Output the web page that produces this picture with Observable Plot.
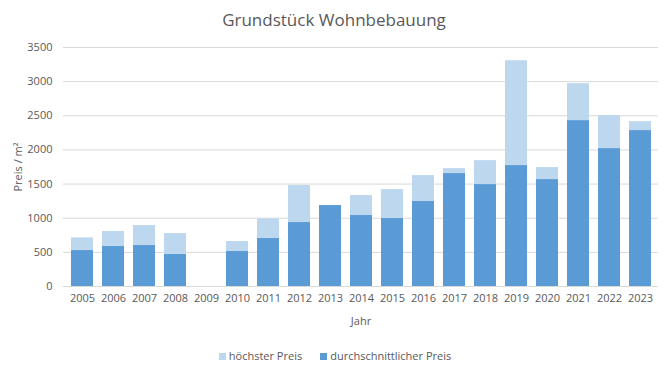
<!DOCTYPE html>
<html><head><meta charset="utf-8">
<script src="https://cdn.jsdelivr.net/npm/d3@7"></script>
<script src="https://cdn.jsdelivr.net/npm/@observablehq/plot@0.6"></script>
<style>
body{margin:0;background:#fff;font-family:"Open Sans",sans-serif;color:#595959;width:668px;}
#title{height:38px;line-height:40px;text-align:center;font-size:17px;color:#595959;}
#legend{height:35px;display:flex;justify-content:center;align-items:center;font-size:11px;color:#595959;gap:18px;padding-left:2px;}
#legend span.sw{display:inline-block;width:7px;height:7px;margin-right:3px;vertical-align:middle;position:relative;top:-1px;}
</style></head><body>
<div id="title">Grundstück Wohnbebauung</div>
<div id="chart"></div>
<div id="legend"></div>
<script>
const years = ["2005","2006","2007","2008","2009","2010","2011","2012","2013","2014","2015","2016","2017","2018","2019","2020","2021","2022","2023"];
const hoechsterPreis = [712,805,892,775,null,658,990,1478,1185,1331,1419,1624,1726,1843,3306,1741,2970,2502,2414];
const durchschnittPreis = [526,585,600,468,null,512,702,936,1185,1039,995,1244,1653,1492,1770,1565,2428,2019,2282];
const yTicks = [0,500,1000,1500,2000,2500,3000,3500];
const seriesNames = ["höchster Preis","durchschnittlicher Preis"];
const colors = ["#bdd7ee","#5b9bd5"];

const data = years.map((y,i)=>({year:y, hoch:hoechsterPreis[i], avg:durchschnittPreis[i]}));

const chart = Plot.plot({
  width:668, height:300,
  marginTop:9, marginBottom:52, marginLeft:63, marginRight:10,
  style:{fontFamily:"'Open Sans',sans-serif", fontSize:"11px", color:"#595959", background:"#fff"},
  x:{domain:years, paddingInner:0.3, paddingOuter:0.15},
  y:{domain:[0,3500]},
  marks:[
    Plot.gridY(yTicks,{stroke:"#d9d9d9", strokeOpacity:1}),
    Plot.barY(data.filter(d=>d.hoch!=null),{x:"year", y1:0, y2:"hoch", fill:colors[0]}),
    Plot.barY(data.filter(d=>d.avg!=null),{x:"year", y1:0, y2:"avg", fill:colors[1]}),
    Plot.axisY(yTicks,{tickSize:0, tickPadding:11, tickFormat:d=>String(d), label:"Preis / m²", labelAnchor:"center", labelOffset:49, labelArrow:"none"}),
    Plot.axisX({tickSize:0, tickPadding:8, label:"Jahr", labelAnchor:"center", labelOffset:38, labelArrow:"none"})
  ]
});
document.getElementById("chart").appendChild(chart);

const lg = document.getElementById("legend");
seriesNames.forEach((n,i)=>{
  const d = document.createElement("div");
  d.innerHTML = `<span class="sw" style="background:${colors[i]}"></span>${n}`;
  lg.appendChild(d);
});
</script>
</body></html>
